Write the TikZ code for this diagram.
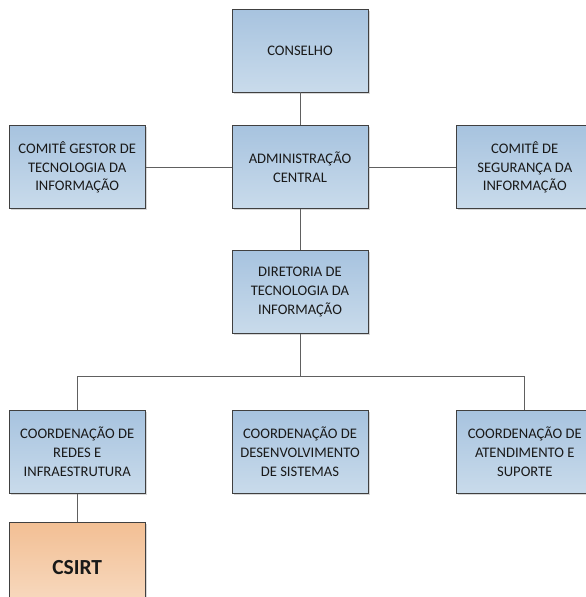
\documentclass[tikz,border=0pt]{standalone}
\usepackage{fontspec}
\setmainfont{Carlito}
\usepackage{tikz}
\usetikzlibrary{positioning,shadows,calc}
\definecolor{bluetop}{HTML}{A7C3DF}
\definecolor{bluebot}{HTML}{C9DBEB}
\definecolor{orgtop}{HTML}{F2BF94}
\definecolor{orgbot}{HTML}{F8DCC4}
\definecolor{edge}{HTML}{404040}
\definecolor{wire}{HTML}{606060}
\tikzset{
  unit/.style={rectangle, draw=edge, line width=0.8pt, top color=bluetop, bottom color=bluebot,
               minimum width=136pt, minimum height=83pt, align=center, inner sep=3pt,
               font=\fontsize{14.6}{18.7}\selectfont, text=black!90,
               drop shadow={shadow xshift=1.5pt, shadow yshift=-1.5pt, opacity=0.35, fill=black!45}},
  csirtbox/.style={unit, top color=orgtop, bottom color=orgbot,
               font=\fontsize{21.5}{24}\selectfont\bfseries, minimum height=90pt},
  link/.style={draw=wire, line width=0.9pt}
}
\begin{document}
\begin{tikzpicture}[x=1pt,y=-1pt]
\useasboundingbox (0,0) rectangle (586,597);
\clip (0,0) rectangle (586,597);
% topo
\node[unit] (conselho) at (300,50.5) {CONSELHO};
\node[unit, below=33pt of conselho] (admin) {ADMINISTRAÇÃO\\CENTRAL};
\node[unit, left=86pt of admin] (cgti) {COMITÊ GESTOR DE\\TECNOLOGIA DA\\INFORMAÇÃO};
\node[unit, right=88pt of admin] (csi) {COMITÊ DE\\SEGURANÇA DA\\INFORMAÇÃO};
\node[unit, below=41pt of admin] (dti) {DIRETORIA DE\\TECNOLOGIA DA\\INFORMAÇÃO};
% coordenacoes
\node[unit, below=76pt of dti] (desenv) {COORDENAÇÃO DE\\DESENVOLVIMENTO\\DE SISTEMAS};
\node[unit, left=86pt of desenv] (redes) {COORDENAÇÃO DE\\REDES E\\INFRAESTRUTURA};
\node[unit, right=88pt of desenv] (atend) {COORDENAÇÃO DE\\ATENDIMENTO E\\SUPORTE};
\node[csirtbox, below=28pt of redes.south, anchor=north] (csirt) {CSIRT};
% ligacoes
\coordinate (barra) at ($(dti.south)+(0,42)$);
\draw[link] (conselho) -- (admin);
\draw[link] (admin) -- (cgti);
\draw[link] (admin) -- (csi);
\draw[link] (admin) -- (dti);
\draw[link] (dti.south) -- (dti.south |- barra);
\draw[link] (redes.north) -- (redes.north |- barra) -- (atend.north |- barra) -- (atend.north);
\draw[link] (redes) -- (csirt);
\end{tikzpicture}
\end{document}
